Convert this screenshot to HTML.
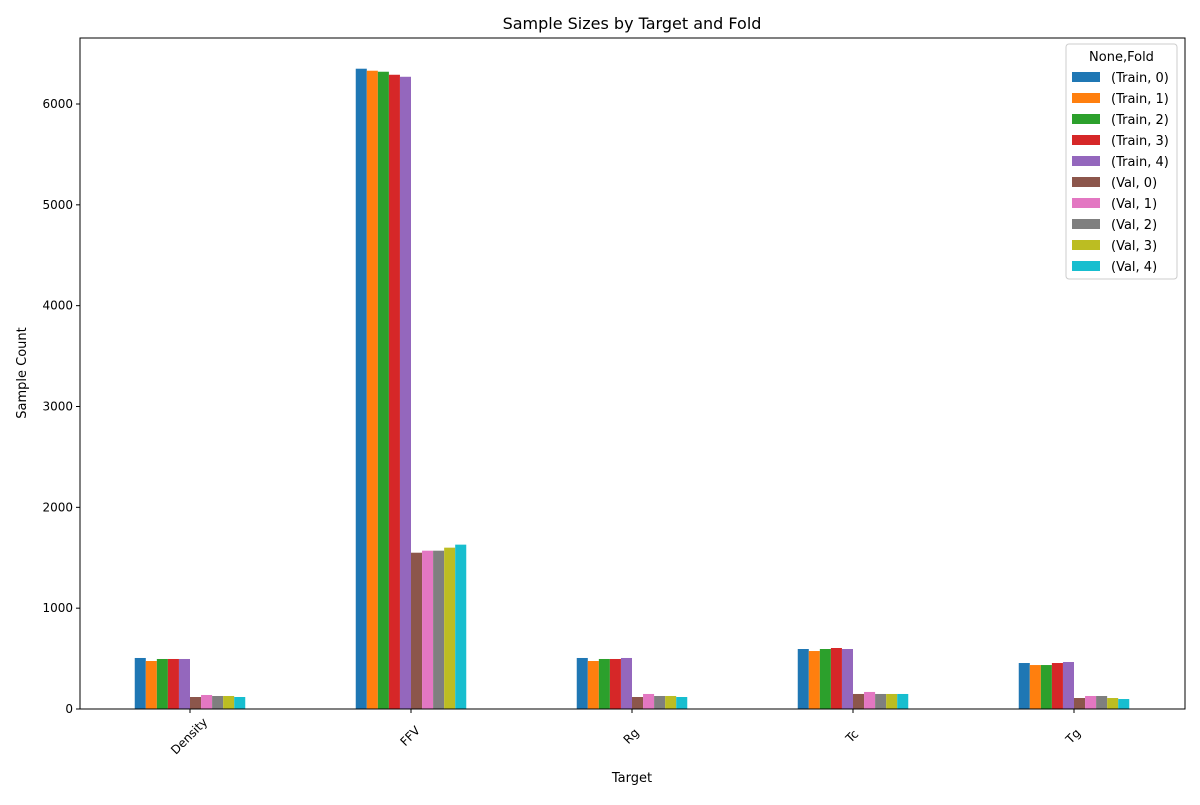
<!DOCTYPE html>
<html><head><meta charset="utf-8"><style>body{margin:0;background:#fff}svg text{font-family:"DejaVu Sans","Liberation Sans",sans-serif}</style></head>
<body>
<svg id="chart" width="1200" height="800" xmlns="http://www.w3.org/2000/svg">
<rect width="1200" height="800" fill="#fff"/>
<text x="632" y="29" font-size="16" text-anchor="middle">Sample Sizes by Target and Fold</text>
<g id="bars"></g>
<g id="axes"></g>
<rect x="80" y="38" width="1105" height="671" fill="none" stroke="#000" stroke-width="1"/>
<text x="632" y="782" font-size="13" text-anchor="middle">Target</text>
<text transform="translate(26,373) rotate(-90)" font-size="13" text-anchor="middle">Sample Count</text>
<g id="legend"></g>
</svg>
<script>
const categories=["Density","FFV","Rg","Tc","Tg"];
const seriesNames=["(Train, 0)","(Train, 1)","(Train, 2)","(Train, 3)","(Train, 4)","(Val, 0)","(Val, 1)","(Val, 2)","(Val, 3)","(Val, 4)"];
const train0=[506,6350,506,595,456];
const train1=[476,6330,476,575,436];
const train2=[496,6320,496,595,436];
const train3=[496,6290,496,605,456];
const train4=[496,6270,506,595,466];
const val0=[119,1550,119,149,109];
const val1=[139,1570,149,169,129];
const val2=[129,1570,129,149,129];
const val3=[129,1600,129,149,109];
const val4=[119,1630,119,149,99];
const yTicks=[0,1000,2000,3000,4000,5000,6000];
const series=[train0,train1,train2,train3,train4,val0,val1,val2,val3,val4];
const colors=["#1f77b4","#ff7f0e","#2ca02c","#d62728","#9467bd","#8c564b","#e377c2","#7f7f7f","#bcbd22","#17becf"];
const NS="http://www.w3.org/2000/svg";
const x0=80,x1=1185,yb=709,yt=38;
const yScale=v=>yb-v*(605/6000);
const xCenter=i=>190+i*((1074-190)/(categories.length-1));
const groupW=(1074-190)/(categories.length-1)*0.5;
const bw=groupW/series.length;
function mk(tag,attrs,parent){const e=document.createElementNS(NS,tag);for(const k in attrs)e.setAttribute(k,attrs[k]);parent.appendChild(e);return e;}
const bars=document.getElementById('bars');
series.forEach((s,j)=>{s.forEach((v,i)=>{
 const r=mk('rect',{x:xCenter(i)-groupW/2+j*bw,y:yScale(v),width:bw,height:yb-yScale(v),fill:colors[j]},bars);
 
 
});});
const axes=document.getElementById('axes');
yTicks.forEach(t=>{const y=yScale(t);
 mk('line',{x1:x0-4,x2:x0,y1:y,y2:y,stroke:'#000'},axes);
 const tx=mk('text',{x:x0-7,y:y+4,'font-size':12,'text-anchor':'end'},axes);tx.textContent=t;
 
 
});
categories.forEach((c,i)=>{const x=xCenter(i);
 mk('line',{x1:x,x2:x,y1:yb,y2:yb+4,stroke:'#000'},axes);
 const tx=mk('text',{transform:`translate(${x+2},${yb+30}) rotate(-45)`,'font-size':12,'text-anchor':'middle'},axes);tx.textContent=c;
 
 
});
const lg=document.getElementById('legend');
mk('rect',{x:1066,y:44,width:111,height:235,rx:3,fill:'#fff',stroke:'#ccc'},lg);
const lt=mk('text',{x:1121.5,y:61,'font-size':13,'text-anchor':'middle'},lg);lt.textContent='None,Fold';
seriesNames.forEach((n,j)=>{const y=77+j*21;
 const p=mk('rect',{x:1072,y:y-5,width:28,height:10,fill:colors[j]},lg);
 
 
 const t=mk('text',{x:1111,y:y+5,'font-size':13},lg);t.textContent=n;
 
 
});
</script>
</body></html>
